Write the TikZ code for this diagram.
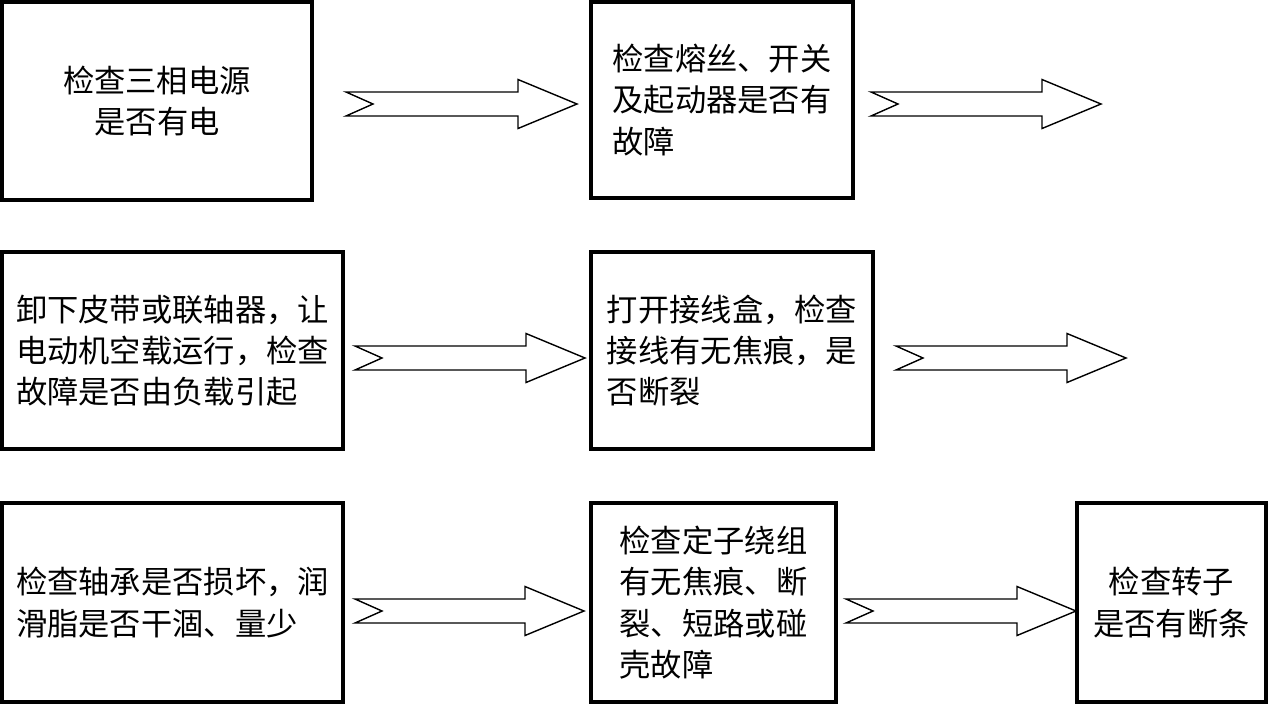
\documentclass[tikz,border=0pt]{standalone}
\usepackage{fontspec}
\newfontfamily\cjk{Noto Sans CJK SC}
\usetikzlibrary{calc}

% notched block arrow from tail point #1 to tip point #2
\newcommand{\blockarrow}[2]{%
  \draw[bigarrow] ($(#1)+(0,-12)$) -- ($(#2)+(-59,-12)$) -- ($(#2)+(-59,-24.5)$) -- (#2)
    -- ($(#2)+(-59,24.5)$) -- ($(#2)+(-59,12)$) -- ($(#1)+(0,12)$) -- ($(#1)+(27,0)$) -- cycle;}

\begin{document}
\begin{tikzpicture}[
    x=0.02cm, y=-0.02cm,
    every node/.style={font={\cjk\fontsize{17.8pt}{23.5pt}\selectfont}},
    box/.style={rectangle, draw, line width=2.2pt, inner sep=0pt, align=left},
    bigarrow/.style={draw, line width=0.8pt, fill=white}
]
\useasboundingbox (0,0) rectangle (1268,704);

% ============ ROW 1 ============
\node[box, align=center, minimum width=6.2cm, minimum height=3.96cm] (power) at (157,101) {检查三相电源\\是否有电};
\node[box, minimum width=5.24cm, minimum height=3.92cm] (fuse) at (722,100) {检查熔丝、开关\\及起动器是否有\\故障};

% ============ ROW 2 ============
\node[box, minimum width=6.82cm, minimum height=3.94cm] (unload) at (172.5,350.5) {卸下皮带或联轴器，让\\电动机空载运行，检查\\故障是否由负载引起};
\node[box, minimum width=5.64cm, minimum height=3.94cm] (termbox) at (732,350.5) {打开接线盒，检查\\接线有无焦痕，是\\否断裂};

% ============ ROW 3 ============
\node[box, minimum width=6.82cm, minimum height=3.98cm] (bearing) at (172.5,602.5) {检查轴承是否损坏，润\\滑脂是否干涸、量少};
\node[box, minimum width=4.9cm, minimum height=3.98cm] (stator) at (713.5,602.5) {检查定子绕组\\有无焦痕、断\\裂、短路或碰\\壳故障};
\node[box, align=center, minimum width=3.78cm, minimum height=3.98cm] (rotor) at (1171.5,602.5) {检查转子\\是否有断条};

% ============ ARROWS ============
\coordinate (power-out) at (346,104);
\coordinate (fuse-in) at (577,104);
\coordinate (fuse-out) at (871,104);
\coordinate (fuse-next) at (1101,104);
\coordinate (unload-out) at (355,358);
\coordinate (termbox-in) at (585,358);
\coordinate (termbox-out) at (896,358);
\coordinate (termbox-next) at (1126,358);
\coordinate (bearing-out) at (355,611);
\coordinate (stator-in) at (584,611);
\coordinate (stator-out) at (846,611);
\coordinate (rotor-in) at (1076,611);

\blockarrow{power-out}{fuse-in}
\blockarrow{fuse-out}{fuse-next}
\blockarrow{unload-out}{termbox-in}
\blockarrow{termbox-out}{termbox-next}
\blockarrow{bearing-out}{stator-in}
\blockarrow{stator-out}{rotor-in}

\end{tikzpicture}
\end{document}
